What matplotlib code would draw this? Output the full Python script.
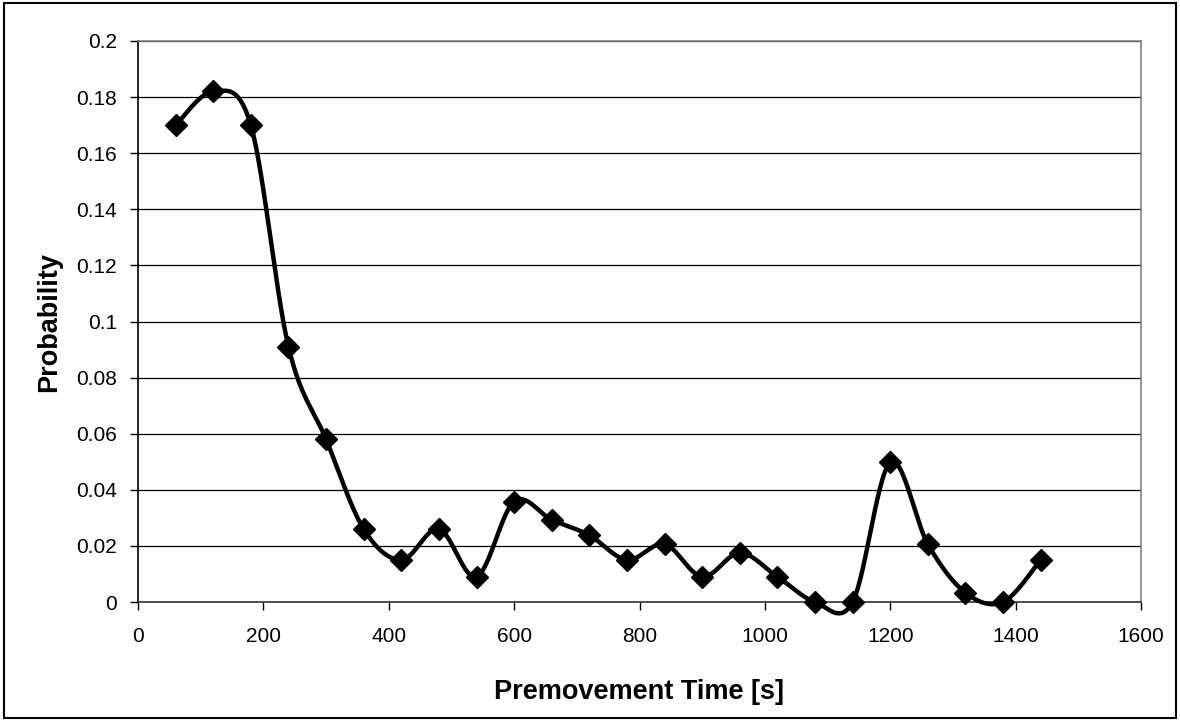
import numpy as np
import matplotlib
matplotlib.use('Agg')
import matplotlib.pyplot as plt
from matplotlib.patches import Rectangle

# 데이터
times = [60, 120, 180, 240, 300, 360, 420, 480, 540, 600, 660, 720,
         780, 840, 900, 960, 1020, 1080, 1140, 1200, 1260, 1320, 1380, 1440]
probs = [0.170, 0.182, 0.170, 0.091, 0.058, 0.026, 0.015, 0.026, 0.009, 0.0358,
         0.0293, 0.0238, 0.015, 0.0206, 0.009, 0.0175, 0.009, 0.0, 0.0, 0.0498,
         0.0206, 0.0033, 0.0, 0.015]
xticks = [0, 200, 400, 600, 800, 1000, 1200, 1400, 1600]
yticks = [0, 0.02, 0.04, 0.06, 0.08, 0.1, 0.12, 0.14, 0.16, 0.18, 0.2]
ytick_labels = ['0', '0.02', '0.04', '0.06', '0.08', '0.1', '0.12', '0.14', '0.16', '0.18', '0.2']


def smooth(x, y, n=30):
    # 엑셀식 부드러운 선 (Catmull-Rom 베지어)
    x = np.asarray(x, float)
    y = np.asarray(y, float)
    px = np.concatenate([[x[0]], x, [x[-1]]])
    py = np.concatenate([[y[0]], y, [y[-1]]])
    t = np.linspace(0, 1, n)[:, None]
    xs, ys = [], []
    for i in range(1, len(px) - 2):
        p0 = np.array([px[i], py[i]])
        p3 = np.array([px[i + 1], py[i + 1]])
        p1 = p0 + (p3 - np.array([px[i - 1], py[i - 1]])) / 6
        p2 = p3 - (np.array([px[i + 2], py[i + 2]]) - p0) / 6
        b = ((1 - t) ** 3) * p0 + 3 * ((1 - t) ** 2) * t * p1 + 3 * (1 - t) * t ** 2 * p2 + t ** 3 * p3
        xs.append(b[:, 0])
        ys.append(b[:, 1])
    return np.concatenate(xs), np.concatenate(ys)


plt.rcParams['font.family'] = ['Liberation Sans', 'DejaVu Sans']

fig = plt.figure(figsize=(11.8, 7.21), dpi=100)
ax = fig.add_axes([138 / 1180, 1 - 602 / 721, (1141 - 138) / 1180, (602 - 41) / 721])

sx, sy = smooth(times, probs)
ax.plot(sx, sy, color='black', lw=3.2, solid_capstyle='round', zorder=3, clip_on=False)
ax.plot(times, probs, linestyle='none', marker='D', markersize=11,
        color='black', zorder=4, clip_on=False)

ax.set_xlim(0, 1600)
ax.set_ylim(0, 0.2)
ax.set_xticks(xticks)
ax.set_yticks(yticks)
ax.set_yticklabels(ytick_labels)
ax.yaxis.grid(True, color='black', lw=0.9)
ax.set_axisbelow(True)

ax.tick_params(direction='out', length=6, width=1, labelsize=15, colors='black')
ax.tick_params(axis='y', pad=9)
ax.tick_params(axis='x', pad=12)

ax.spines['left'].set_color('black')
ax.spines['bottom'].set_color('#333333')
ax.spines['top'].set_color('#808080')
ax.spines['right'].set_color('#808080')
for s in ax.spines.values():
    s.set_linewidth(1.2)

ax.set_xlabel('Premovement Time [s]', fontsize=19.5, fontweight='bold', labelpad=24)
ax.set_ylabel('Probability', fontsize=19.5, fontweight='bold', labelpad=10)

# 바깥 테두리
fig.patches.append(Rectangle((0.003, 0.004), 0.994, 0.992, transform=fig.transFigure,
                             fill=False, edgecolor='black', lw=1.5))

plt.savefig('out.png', dpi=100)
